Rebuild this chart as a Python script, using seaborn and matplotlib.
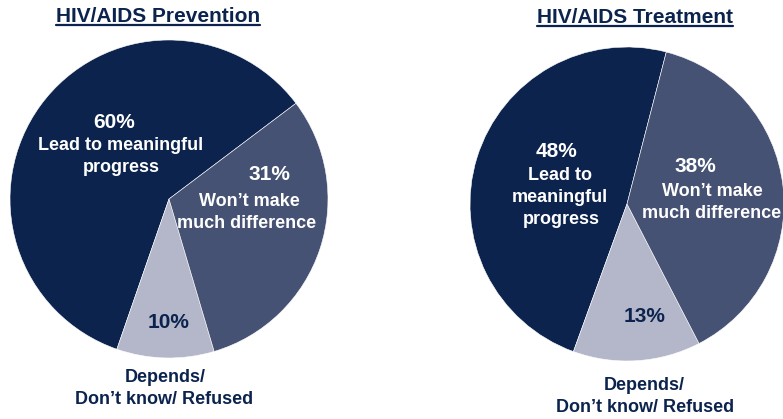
import matplotlib
matplotlib.use("Agg")
import matplotlib.pyplot as plt
import seaborn as sns
from matplotlib.lines import Line2D

# Survey responses (percent), slice order: progress, depends, no difference
categories = ["Lead to meaningful progress",
              "Depends/ Don\u2019t know/ Refused",
              "Won\u2019t make much difference"]
prevention = [60, 10, 31]
treatment = [48, 13, 38]
titles = ["HIV/AIDS Prevention", "HIV/AIDS Treatment"]

sns.set_theme(style="white")
plt.rcParams["font.family"] = ["Liberation Sans", "DejaVu Sans"]

NAVY = "#0B234D"
SLATE = "#465273"
LIGHT = "#B4B7CA"
palette = sns.color_palette([NAVY, LIGHT, SLATE])

W, H = 783, 419
fig = plt.figure(figsize=(W / 100, H / 100), dpi=100)
fig.patch.set_facecolor("white")


def px_axes(cx, cy, r):
    return fig.add_axes([(cx - r) / W, (H - cy - r) / H, 2 * r / W, 2 * r / H])


def ftext(x, y, s, size, color, **kw):
    return fig.text(x / W, 1 - y / H, s, fontsize=size, color=color,
                    fontweight="bold", ha="center", va="baseline", **kw)


def draw_pie(ax, values, start):
    ax.pie(values, colors=palette, startangle=start, counterclock=True,
           radius=1.0, wedgeprops=dict(edgecolor="white", linewidth=0.4))
    ax.set_xlim(-1, 1)
    ax.set_ylim(-1, 1)
    ax.set_aspect("equal")
    ax.axis("off")


ax1 = px_axes(169, 199, 159)
draw_pie(ax1, prevention, 37)
ax2 = px_axes(627, 204, 157)
draw_pie(ax2, treatment, 75.5)

PCT, LBL = 15, 13
WHITE = "white"

# Prevention labels
ftext(114, 128, f"{prevention[0]}%", PCT, WHITE)
ftext(121, 150, "Lead to meaningful", LBL, WHITE)
ftext(121, 172, "progress", LBL, WHITE)
ftext(269, 180, f"{prevention[2]}%", PCT, WHITE)
ftext(249, 206, "Won\u2019t make", LBL, WHITE)
ftext(247, 228, "much difference", LBL, WHITE)
ftext(169, 328, f"{prevention[1]}%", PCT, NAVY)
ftext(165, 382, "Depends/", LBL, NAVY)
ftext(164, 404, "Don\u2019t know/ Refused", LBL, NAVY)

# Treatment labels
ftext(557, 157, f"{treatment[0]}%", PCT, WHITE)
ftext(560, 180, "Lead to", LBL, WHITE)
ftext(560, 202, "meaningful", LBL, WHITE)
ftext(561, 224, "progress", LBL, WHITE)
ftext(695, 172, f"{treatment[2]}%", PCT, WHITE)
ftext(712, 196, "Won\u2019t make", LBL, WHITE)
ftext(712, 218, "much difference", LBL, WHITE, clip_on=False)
ftext(645, 322, f"{treatment[1]}%", PCT, NAVY)
ftext(644, 390, "Depends/", LBL, NAVY)
ftext(645, 412, "Don\u2019t know/ Refused", LBL, NAVY)

# Underlined titles
title_texts = [ftext(158, 22, titles[0], PCT, NAVY),
               ftext(635, 23, titles[1], PCT, NAVY)]
fig.canvas.draw()
renderer = fig.canvas.get_renderer()
for t, uy in zip(title_texts, [25, 26]):
    bb = t.get_window_extent(renderer)
    fig.add_artist(Line2D([bb.x0 / W, bb.x1 / W], [1 - uy / H, 1 - uy / H],
                          transform=fig.transFigure, color=NAVY, linewidth=1.6))

fig.savefig("out.png", dpi=100, facecolor="white")
